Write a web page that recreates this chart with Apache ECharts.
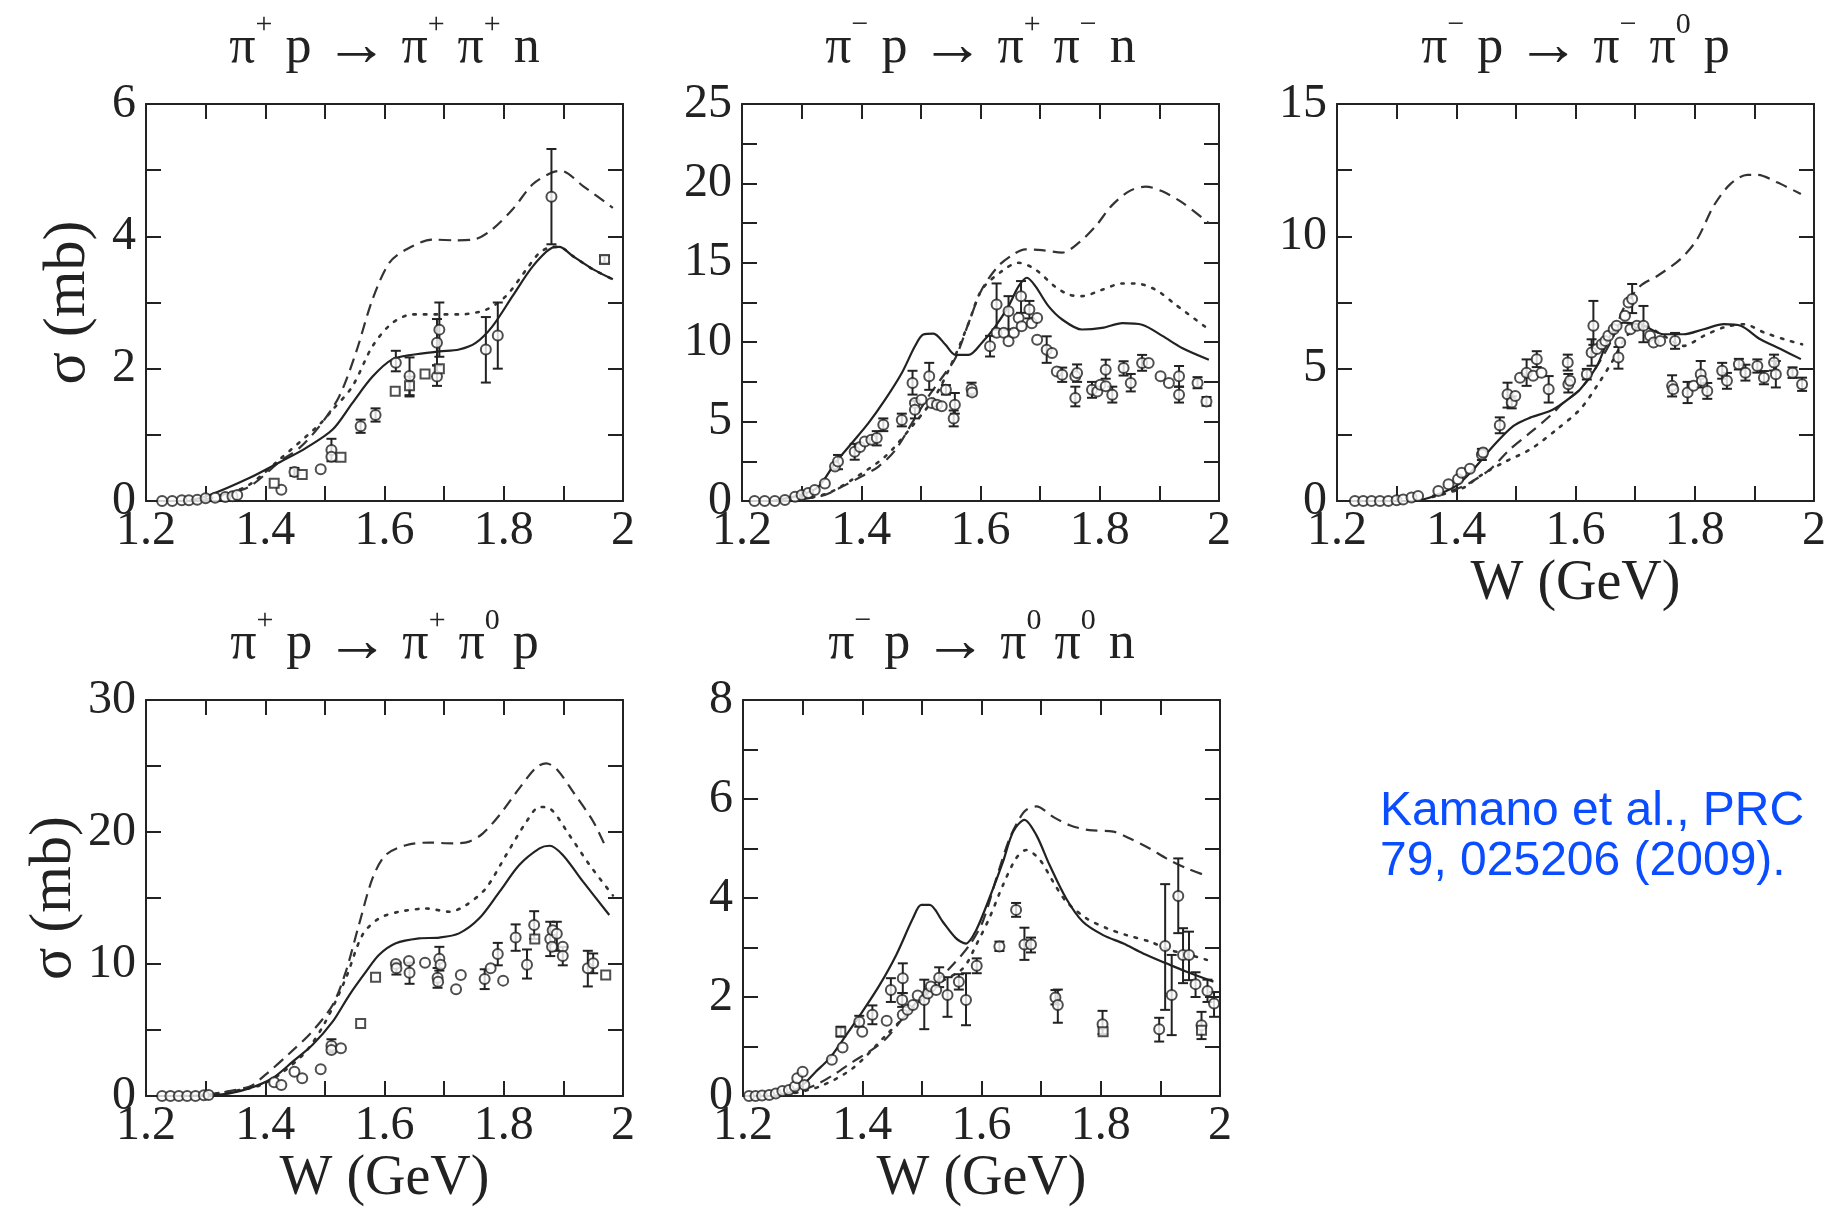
<!DOCTYPE html>
<html>
<head>
<meta charset="utf-8">
<title>pi N -> pi pi N total cross sections</title>
<script src="https://cdn.jsdelivr.net/npm/echarts@6/dist/echarts.min.js"></script>
<style>
  html, body { margin: 0; padding: 0; background: #fff; }
  #main { width: 1842px; height: 1208px; }
</style>
</head>
<body>
<div id="main"></div>
<script>
// ---- data: [W (GeV), sigma (mb)] ; points may carry [lo, hi] error bar ----

// pi+ p -> pi+ pi+ n
var p1Dashed = [[1.29,0],[1.34,0.12],[1.374,0.22],[1.425,0.6],[1.457,0.8],[1.49,1.12],[1.524,1.58],[1.552,2.24],[1.58,3.05],[1.608,3.6],[1.636,3.8],[1.68,3.95],[1.72,3.94],[1.753,3.96],[1.78,4.1],[1.815,4.41],[1.849,4.79],[1.882,4.97],[1.896,4.99],[1.933,4.76],[1.983,4.43]];
var p1Dotted = [[1.29,0],[1.34,0.12],[1.374,0.25],[1.423,0.62],[1.49,1.15],[1.513,1.38],[1.546,1.73],[1.58,2.34],[1.613,2.69],[1.647,2.82],[1.692,2.82],[1.725,2.82],[1.77,2.89],[1.804,3.1],[1.838,3.5],[1.86,3.75],[1.882,3.84],[1.893,3.84],[1.916,3.7],[1.95,3.5],[1.983,3.35]];
var p1Solid = [[1.27,0],[1.307,0.09],[1.374,0.35],[1.425,0.59],[1.468,0.8],[1.513,1.08],[1.546,1.48],[1.58,1.88],[1.613,2.14],[1.647,2.21],[1.692,2.26],[1.725,2.29],[1.753,2.39],[1.781,2.64],[1.815,3.1],[1.849,3.55],[1.882,3.83],[1.893,3.84],[1.916,3.7],[1.95,3.5],[1.983,3.35]];
var p1Circles = [[1.227,0],[1.244,0],[1.26,0.01],[1.272,0.01],[1.286,0.02],[1.3,0.04],[1.316,0.05],[1.333,0.06],[1.345,0.07],[1.353,0.09],
  [1.427,0.17],[1.449,0.44,0.38,0.5],[1.493,0.48],[1.511,0.77,0.6,0.94],[1.511,0.67],[1.56,1.13,1.03,1.23],[1.585,1.3,1.2,1.4],
  [1.619,2.09,1.96,2.27],[1.642,1.89,1.58,2.17],[1.688,2.39,2.05,2.75],[1.692,2.59,2.18,3.0],[1.688,1.88,1.74,2.05],
  [1.77,2.29,1.79,2.78],[1.79,2.5,2.0,3.0],[1.88,4.6,3.88,5.32]];
var p1Squares = [[1.415,0.27],[1.462,0.4],[1.527,0.66],[1.618,1.66],[1.642,1.74,1.6,1.88],[1.668,1.92],[1.692,2.0],[1.969,3.65,3.6,3.7]];

// pi- p -> pi+ pi- n
var p2Dashed = [[1.3,0.1],[1.339,0.38],[1.373,1.0],[1.4,1.54],[1.429,2.17],[1.457,3.2],[1.485,4.9],[1.513,6.6],[1.541,8.06],[1.558,9.0],[1.58,11.2],[1.602,13.3],[1.63,14.8],[1.658,15.6],[1.675,15.85],[1.703,15.8],[1.737,15.64],[1.765,16.27],[1.793,17.3],[1.82,18.6],[1.849,19.5],[1.877,19.8],[1.905,19.5],[1.938,18.8],[1.983,17.5]];
var p2Dotted = [[1.3,0.1],[1.345,0.5],[1.384,1.33],[1.44,2.8],[1.485,4.7],[1.524,6.6],[1.557,9.1],[1.58,11.2],[1.602,13.3],[1.636,14.48],[1.664,15.0],[1.692,14.58],[1.725,13.5],[1.748,13.0],[1.77,12.9],[1.804,13.3],[1.838,13.7],[1.86,13.7],[1.894,13.3],[1.927,12.37],[1.983,10.8]];
var p2Solid = [[1.25,0],[1.3,0.4],[1.328,0.9],[1.356,2.38],[1.384,3.64],[1.412,4.9],[1.44,6.38],[1.468,8.06],[1.49,9.74],[1.504,10.48],[1.521,10.54],[1.541,9.85],[1.558,9.2],[1.58,9.2],[1.602,9.95],[1.625,11.0],[1.647,12.27],[1.664,13.53],[1.678,14.06],[1.692,13.53],[1.714,12.27],[1.737,11.43],[1.77,10.8],[1.804,10.9],[1.838,11.2],[1.871,11.1],[1.905,10.4],[1.938,9.64],[1.983,8.9]];
var p2Circles = [[1.221,0],[1.238,0],[1.255,0],[1.272,0.06],[1.289,0.27],[1.3,0.38],[1.311,0.5],[1.322,0.7],[1.339,1.1],
  [1.356,2.17],[1.361,2.48,2.0,2.9],[1.389,3.1,2.6,3.6],[1.398,3.4],[1.406,3.75],[1.417,3.85],[1.426,3.96,3.5,4.4],[1.437,4.8,4.4,5.2],
  [1.468,5.1,4.7,5.5],[1.486,7.43,6.7,8.2],[1.49,6.17],[1.49,5.74,5.2,6.3],[1.501,6.38],[1.514,7.85,7.0,8.7],[1.518,6.17],[1.527,6.06],
  [1.535,5.96],[1.542,7.0,6.7,7.3],[1.557,6.06,5.5,6.8],[1.555,5.2,4.7,5.7],[1.585,7.05,6.65,7.45],[1.586,6.84],
  [1.616,9.74,9.1,10.4],[1.627,12.37,10.8,13.7],[1.627,10.6],[1.639,10.6],[1.647,11.95,10.8,12.9],[1.647,10.06],[1.656,10.6],
  [1.664,11.53],[1.668,12.9,11.85,13.85],[1.669,11.0],[1.682,12.06,11.5,12.6],[1.686,11.2],[1.695,11.53],[1.695,10.16],
  [1.711,9.53,8.7,10.37],[1.72,9.32],[1.728,8.16],[1.737,7.95,7.5,8.4],[1.759,7.85],[1.759,6.48,5.96,7.2],[1.762,8.06,7.5,8.6],
  [1.787,7.0,6.5,7.5],[1.796,6.9],[1.801,7.32],[1.81,8.27,7.7,8.9],[1.81,7.22],[1.821,6.69,6.2,7.2],[1.84,8.37,7.9,8.8],
  [1.852,7.43,6.9,8.0],[1.871,8.69,8.2,9.2],[1.882,8.69],[1.902,7.85],[1.916,7.43],[1.933,7.85,7.2,8.5],[1.933,6.69,6.2,7.2],
  [1.964,7.43,7.1,7.8],[1.979,6.27,6.0,6.55]];
var p2Squares = [];

// pi- p -> pi- pi0 p
var p3Dashed = [[1.36,0.2],[1.4,0.45],[1.423,0.69],[1.457,1.2],[1.49,1.95],[1.524,2.58],[1.557,3.21],[1.58,3.72],[1.608,4.22],[1.636,5.1],[1.664,6.24],[1.68,7.25],[1.709,8.13],[1.737,8.5],[1.776,9.14],[1.804,9.89],[1.832,11.16],[1.86,11.98],[1.888,12.32],[1.905,12.32],[1.938,12.04],[1.978,11.6]];
var p3Dotted = [[1.36,0.15],[1.412,0.5],[1.44,0.95],[1.479,1.45],[1.524,1.95],[1.569,2.71],[1.608,3.47],[1.636,4.35],[1.664,5.36],[1.686,6.24],[1.714,6.62],[1.748,6.24],[1.781,5.86],[1.815,6.24],[1.849,6.56],[1.882,6.68],[1.916,6.37],[1.95,6.11],[1.98,5.92]];
var p3Solid = [[1.33,0],[1.356,0.13],[1.4,0.57],[1.429,1.2],[1.462,2.08],[1.496,2.84],[1.524,3.15],[1.557,3.4],[1.58,3.72],[1.608,4.22],[1.636,5.1],[1.658,6.24],[1.68,6.74],[1.714,6.62],[1.748,6.3],[1.781,6.3],[1.815,6.49],[1.849,6.68],[1.877,6.62],[1.91,6.11],[1.944,5.74],[1.978,5.36]];
var p3Circles = [[1.23,0],[1.244,0],[1.258,0],[1.272,0],[1.286,0],[1.3,0.03],[1.311,0.06],[1.325,0.13],[1.336,0.19],[1.37,0.38],
  [1.387,0.63],[1.403,0.82],[1.409,1.07],[1.423,1.22],[1.443,1.76,1.55,1.97],[1.445,1.83],
  [1.473,2.86,2.56,3.16],[1.486,4.03,3.53,4.47],[1.493,3.72,3.5,3.95],[1.499,3.97],[1.507,4.66],[1.518,4.85,4.35,5.35],[1.529,4.73],
  [1.535,5.36,5.06,5.66],[1.543,4.85],[1.555,4.22,3.72,4.72],[1.587,5.23,4.93,5.53],[1.588,4.41,4.1,4.8],[1.591,4.54],
  [1.619,4.79,4.59,4.99],[1.63,6.62,5.9,7.56],[1.627,5.61,5.11,6.11],[1.636,5.74],[1.644,5.92],[1.65,6.05],[1.655,6.24],
  [1.664,6.49],[1.669,6.62],[1.672,5.42,5.0,5.82],[1.675,5.99],[1.683,7.0],[1.689,7.5],[1.695,7.63,7.1,8.2],[1.692,6.49],
  [1.703,6.62],[1.714,6.62,6.0,7.37],[1.725,6.24],[1.731,5.99],[1.742,6.05],[1.767,6.05,5.75,6.35],[1.762,4.35,3.95,4.75],
  [1.764,4.22],[1.788,4.1,3.7,4.5],[1.798,4.35],[1.81,4.79,4.29,5.29],[1.812,4.54],[1.821,4.16,3.86,4.46],[1.846,4.92,4.62,5.22],
  [1.854,4.54,4.24,4.84],[1.874,5.17,4.97,5.37],[1.885,4.85,4.55,5.15],[1.905,5.1,4.85,5.35],[1.916,4.66,4.41,4.91],
  [1.933,5.23,4.93,5.53],[1.936,4.79,4.29,5.29],[1.964,4.85,4.65,5.05],[1.98,4.41,4.16,4.66]];
var p3Squares = [];

// pi+ p -> pi+ pi0 p
var p4Dashed = [[1.3,0.1],[1.373,0.7],[1.4,1.6],[1.44,3.2],[1.479,4.9],[1.513,6.9],[1.535,9.4],[1.557,12.95],[1.58,16.5],[1.602,18.26],[1.636,19.0],[1.675,19.2],[1.714,19.14],[1.742,19.27],[1.765,19.9],[1.793,21.29],[1.826,23.3],[1.854,24.87],[1.871,25.2],[1.888,24.8],[1.916,23.06],[1.95,20.8],[1.972,18.76]];
var p4Dotted = [[1.3,0.1],[1.384,0.7],[1.423,1.6],[1.468,3.36],[1.501,5.63],[1.535,8.9],[1.563,12.2],[1.591,13.46],[1.625,13.96],[1.67,14.2],[1.709,13.96],[1.737,14.47],[1.77,15.73],[1.804,18.26],[1.838,20.78],[1.86,21.9],[1.877,21.79],[1.91,19.77],[1.944,17.5],[1.983,15.2]];
var p4Solid = [[1.25,0],[1.328,0.13],[1.373,0.58],[1.412,1.34],[1.446,2.6],[1.479,3.86],[1.513,5.63],[1.541,7.65],[1.569,9.42],[1.591,10.7],[1.619,11.57],[1.658,11.94],[1.692,12.0],[1.725,12.32],[1.759,13.46],[1.793,15.48],[1.826,17.5],[1.86,18.76],[1.877,18.96],[1.899,18.26],[1.933,16.24],[1.977,13.71]];
var p4Circles = [[1.227,0],[1.241,0],[1.255,0],[1.269,0],[1.283,0],[1.297,0.05],[1.305,0.08],
  [1.415,1.04],[1.427,0.83],[1.449,1.84],[1.462,1.34],[1.493,2.02],[1.511,3.81,3.3,4.3],[1.511,3.48],[1.527,3.61],
  [1.619,10.0],[1.62,9.67,9.2,10.1],[1.641,10.23],[1.642,9.34,8.5,10.1],[1.668,10.1],[1.689,8.96,8.2,9.7],[1.69,8.66],
  [1.692,10.4,9.5,11.3],[1.694,9.95],[1.72,8.08],[1.728,9.17],[1.768,8.86,8.1,9.6],[1.778,9.67],[1.79,10.76,9.9,11.6],
  [1.799,8.74],[1.82,12.0,11.0,13.0],[1.839,9.95,8.9,11.1],[1.851,12.95,11.9,14.0],[1.878,11.9,10.6,13.2],[1.882,12.55],
  [1.889,12.3,11.0,13.2],[1.881,11.3],[1.899,11.3],[1.899,10.6,9.9,11.3],[1.941,9.67,8.3,11.0],[1.95,10.05,9.3,10.8]];
var p4Squares = [[1.56,5.5],[1.585,8.99],[1.852,11.9],[1.971,9.17]];

// pi- p -> pi0 pi0 n
var p5Dashed = [[1.27,0.02],[1.3,0.12],[1.328,0.26],[1.356,0.46],[1.384,0.69],[1.412,0.9],[1.44,1.16],[1.468,1.57],[1.496,1.97],[1.524,2.31],[1.552,2.65],[1.58,3.05],[1.602,3.52],[1.625,4.4],[1.647,5.2],[1.664,5.61],[1.675,5.78],[1.692,5.85],[1.72,5.64],[1.748,5.47],[1.781,5.37],[1.821,5.34],[1.849,5.2],[1.882,5.0],[1.91,4.8],[1.944,4.6],[1.975,4.46]];
var p5Dotted = [[1.27,0.02],[1.328,0.19],[1.384,0.56],[1.44,1.23],[1.485,1.77],[1.524,2.24],[1.569,2.58],[1.591,3.05],[1.613,3.59],[1.636,4.26],[1.658,4.8],[1.675,4.97],[1.698,4.77],[1.72,4.33],[1.742,3.93],[1.776,3.59],[1.81,3.39],[1.843,3.25],[1.882,3.12],[1.916,2.95],[1.95,2.85],[1.978,2.75]];
var p5Solid = [[1.25,0],[1.28,0.08],[1.3,0.22],[1.322,0.49],[1.345,0.76],[1.373,1.23],[1.4,1.7],[1.429,2.24],[1.457,2.85],[1.485,3.59],[1.499,3.86],[1.513,3.86],[1.535,3.52],[1.557,3.19],[1.574,3.08],[1.591,3.35],[1.613,3.99],[1.636,4.73],[1.653,5.34],[1.672,5.58],[1.692,5.27],[1.714,4.67],[1.742,3.99],[1.77,3.52],[1.804,3.25],[1.838,3.08],[1.871,2.88],[1.91,2.68],[1.944,2.51],[1.989,2.31]];
var p5Circles = [[1.21,0],[1.221,0],[1.232,0.01],[1.244,0.02],[1.255,0.05],[1.266,0.1],[1.277,0.12],[1.287,0.19],[1.291,0.36],
  [1.3,0.49],[1.303,0.22],[1.349,0.73],[1.367,0.98],[1.395,1.5,1.4,1.62],[1.4,1.3],[1.417,1.64,1.45,1.83],[1.441,1.52],
  [1.448,2.14,1.9,2.38],[1.468,2.38,2.08,2.68],[1.467,1.94,1.8,2.08],[1.468,1.64],[1.476,1.74],[1.485,1.84],[1.493,2.03],
  [1.504,1.94,1.35,2.35],[1.51,2.07],[1.515,2.21],[1.524,2.14],[1.529,2.39,2.2,2.6],[1.543,2.04,1.6,2.4],[1.562,2.31,2.15,2.46],
  [1.574,1.94,1.43,2.48],[1.592,2.63,2.48,2.78],[1.63,3.02,2.93,3.12],[1.658,3.76,3.62,3.9],[1.672,3.06,2.75,3.4],
  [1.683,3.06,2.9,3.2],[1.724,1.99,1.85,2.14],[1.728,1.84,1.48,2.15],[1.803,1.45,1.25,1.72],[1.898,1.35,1.1,1.58],
  [1.908,3.03,1.74,4.28],[1.919,2.04,1.23,2.85],[1.93,4.04,3.29,4.8],[1.938,2.85,2.28,3.39],[1.948,2.85,2.34,3.32],
  [1.959,2.26,2.0,2.5],[1.969,1.43,1.15,1.7],[1.979,2.12,1.9,2.35],[1.99,1.87,1.6,2.1]];
var p5Squares = [[1.364,1.3,1.2,1.4],[1.804,1.3],[1.969,1.33]];

// reaction labels (b = normal, s = superscript, a = arrow)
var titles = [
  '{b|π}{s|+}{b| p }{a|→}{b| π}{s|+}{b| π}{s|+}{b| n}',
  '{b|π}{s|−}{b| p }{a|→}{b| π}{s|+}{b| π}{s|−}{b| n}',
  '{b|π}{s|−}{b| p }{a|→}{b| π}{s|−}{b| π}{s|0}{b| p}',
  '{b|π}{s|+}{b| p }{a|→}{b| π}{s|+}{b| π}{s|0}{b| p}',
  '{b|π}{s|−}{b| p }{a|→}{b| π}{s|0}{b| π}{s|0}{b| n}'
];
var yMax  = [6, 25, 15, 30, 8];
var yStep = [2, 5, 5, 10, 2];
var xName = 'W (GeV)';
var yName = 'σ (mb)';
var citation = 'Kamano et al., PRC\n79, 025206 (2009).';

// ---- layout ----
var INK = '#222';
var SERIF = '"Liberation Serif", "DejaVu Serif", serif';
var panels = [
  { box: [146, 104, 477, 397], dashed: p1Dashed, dotted: p1Dotted, solid: p1Solid, circles: p1Circles, squares: p1Squares, showY: true,  showX: false },
  { box: [742, 104, 477, 397], dashed: p2Dashed, dotted: p2Dotted, solid: p2Solid, circles: p2Circles, squares: p2Squares, showY: false, showX: false },
  { box: [1337, 104, 477, 397], dashed: p3Dashed, dotted: p3Dotted, solid: p3Solid, circles: p3Circles, squares: p3Squares, showY: false, showX: true },
  { box: [146, 700, 477, 396], dashed: p4Dashed, dotted: p4Dotted, solid: p4Solid, circles: p4Circles, squares: p4Squares, showY: true,  showX: true },
  { box: [743, 700, 477, 396], dashed: p5Dashed, dotted: p5Dotted, solid: p5Solid, circles: p5Circles, squares: p5Squares, showY: false, showX: true }
];

var lineSt = { color: INK, width: 2 };
var tickSt = { show: true, inside: true, length: 15, lineStyle: lineSt };
var minorSt = { show: true, splitNumber: 2, length: 15, lineStyle: lineSt };
var labelSt = { fontFamily: SERIF, fontSize: 48, color: INK };

function errBar(params, api) {
  var a = api.coord([api.value(0), api.value(1)]);
  var b = api.coord([api.value(0), api.value(2)]);
  var w = 5;
  var st = { stroke: INK, lineWidth: 2 };
  return {
    type: 'group',
    children: [
      { type: 'line', shape: { x1: a[0], y1: a[1], x2: b[0], y2: b[1] }, style: st },
      { type: 'line', shape: { x1: a[0] - w, y1: a[1], x2: a[0] + w, y2: a[1] }, style: st },
      { type: 'line', shape: { x1: b[0] - w, y1: b[1], x2: b[0] + w, y2: b[1] }, style: st }
    ]
  };
}

var grids = [], xAxes = [], yAxes = [], series = [], graphics = [];

panels.forEach(function (p, i) {
  grids.push({ left: p.box[0], top: p.box[1], width: p.box[2], height: p.box[3], outerBoundsMode: 'none' });

  ['bottom', 'top'].forEach(function (pos) {
    var ax = {
      gridIndex: i, type: 'value', position: pos, min: 1.2, max: 2, interval: 0.2,
      axisLine: { onZero: false, lineStyle: lineSt },
      axisTick: tickSt, minorTick: minorSt, splitLine: { show: false },
      axisLabel: Object.assign({ show: pos === 'bottom', margin: 6 }, labelSt)
    };
    if (pos === 'bottom' && p.showX) {
      ax.name = xName;
      ax.nameLocation = 'middle';
      ax.nameGap = 50;
      ax.nameTextStyle = { fontFamily: SERIF, fontSize: 56, color: INK };
    }
    xAxes.push(ax);
  });

  ['left', 'right'].forEach(function (pos) {
    var ay = {
      gridIndex: i, type: 'value', position: pos, min: 0, max: yMax[i], interval: yStep[i],
      axisLine: { onZero: false, lineStyle: lineSt },
      axisTick: tickSt, minorTick: minorSt, splitLine: { show: false },
      axisLabel: Object.assign({ show: pos === 'left', margin: 10 }, labelSt)
    };
    if (pos === 'left' && p.showY) {
      ay.name = yName;
      ay.nameLocation = 'middle';
      ay.nameGap = 48;
      ay.nameTextStyle = { fontFamily: SERIF, fontSize: 60, color: INK };
    }
    yAxes.push(ay);
  });

  var base = { xAxisIndex: i * 2, yAxisIndex: i * 2, silent: true };

  series.push(Object.assign({ type: 'line', data: p.dashed, smooth: 0.3, showSymbol: false,
    lineStyle: { color: '#333', width: 2.2, type: [12, 7] }, z: 2 }, base));
  series.push(Object.assign({ type: 'line', data: p.dotted, smooth: 0.3, showSymbol: false,
    lineStyle: { color: '#333', width: 2.6, type: [2.5, 8], cap: 'round' }, z: 2 }, base));
  series.push(Object.assign({ type: 'line', data: p.solid, smooth: 0.3, showSymbol: false,
    lineStyle: { color: '#222', width: 2.2 }, z: 2 }, base));

  var bars = p.circles.concat(p.squares).filter(function (d) { return d.length === 4; })
    .map(function (d) { return [d[0], d[2], d[3]]; });
  series.push(Object.assign({ type: 'custom', renderItem: errBar, data: bars,
    encode: { x: 0, y: [1, 2] }, z: 3 }, base));

  series.push(Object.assign({ type: 'scatter', symbol: 'emptyCircle', symbolSize: 10,
    data: p.circles.map(function (d) { return [d[0], d[1]]; }),
    itemStyle: { color: INK, borderColor: INK, borderWidth: 1.8 }, z: 4 }, base));
  series.push(Object.assign({ type: 'scatter', symbol: 'emptyRect', symbolSize: 9,
    data: p.squares.map(function (d) { return [d[0], d[1]]; }),
    itemStyle: { color: INK, borderColor: INK, borderWidth: 1.8 }, z: 4 }, base));

  graphics.push({
    type: 'text',
    x: p.box[0] + p.box[2] / 2,
    y: p.box[1] - 56,
    style: {
      text: titles[i],
      align: 'center',
      verticalAlign: 'middle',
      rich: {
        b: { fontFamily: SERIF, fontSize: 52, lineHeight: 60, fill: INK },
        a: { fontFamily: SERIF, fontSize: 64, lineHeight: 60, fill: INK },
        s: { fontFamily: SERIF, fontSize: 30, lineHeight: 8, padding: [0, 0, 46, 0], fill: INK }
      }
    }
  });
});

graphics.push({
  type: 'text', x: 1380, y: 787,
  style: { text: citation, fill: '#0a4cff', font: '48px "Liberation Sans", Arial, sans-serif', lineHeight: 50 }
});

var chart = echarts.init(document.getElementById('main'));
chart.setOption({
  backgroundColor: '#fff',
  animation: false,
  grid: grids,
  xAxis: xAxes,
  yAxis: yAxes,
  series: series,
  graphic: graphics
});
</script>
</body>
</html>
